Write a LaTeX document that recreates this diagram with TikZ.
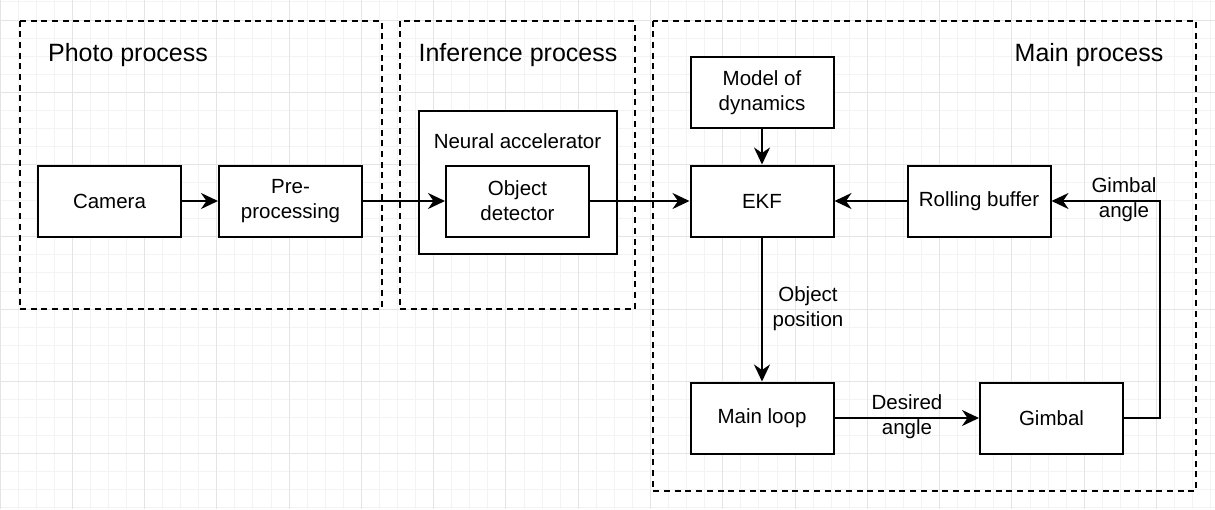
\documentclass[tikz,border=0pt]{standalone}
\usepackage{fontspec}
\setmainfont{Liberation Sans}
\usetikzlibrary{arrows.meta}
\newcommand\boxfont{\fontsize{20.5}{25}\selectfont}
\newcommand\titlefont{\fontsize{25}{30}\selectfont}
\definecolor{gridminor}{HTML}{F3F3F3}
\definecolor{gridmajor}{HTML}{E4E4E4}
\begin{document}
\begin{tikzpicture}[x=1pt,y=-1pt,
  box/.style={draw, line width=2pt, minimum width=143pt, minimum height=71pt,
    align=center, font=\boxfont, inner sep=0pt, fill=white},
  grp/.style={draw, line width=2pt, dash pattern=on 6pt off 4.7pt},
  arr/.style={line width=2pt, -{Stealth[length=17pt,width=16pt,inset=5.5pt]}},
  lbl/.style={align=center, font=\boxfont, inner sep=1pt},
  ttl/.style={font=\titlefont, inner sep=0pt}]
\useasboundingbox (0,0) rectangle (1215,509);
\fill[white] (0,0) rectangle (1215,509);
% grid
\begin{scope}[line width=1pt]
\foreach \i in {0,...,67} \draw[gridminor] (\i*18.07,0) -- (\i*18.07,509);
\foreach \k in {-1,...,27} \draw[gridminor] (0,20+\k*18.07) -- (1215,20+\k*18.07);
\foreach \i in {0,...,16} \draw[gridmajor] (\i*72.28,0) -- (\i*72.28,509);
\foreach \k in {0,...,6} \draw[gridmajor] (0,20+\k*72.28) -- (1215,20+\k*72.28);
\end{scope}
% groups
\draw[grp] (19.5,20.5) rectangle (381.5,309);
\draw[grp] (399.5,20.5) rectangle (635,309);
\draw[grp] (653,20.5) rectangle (1196,491);
\node[ttl] (tphoto) at (128,55) {Photo process};
\node[ttl] (tinf) at (518,55) {Inference process};
\node[ttl] (tmain) at (1089,55) {Main process};
% neural accelerator
\node[draw, line width=2pt, minimum width=198pt, minimum height=143pt, fill=white] (na) at (517.5,182.5) {};
\node[lbl] (nalbl) at (517.5,141) {Neural accelerator};
% boxes
\node[box] (cam) at (109.5,201) {Camera};
\node[box] (pre) at (290.5,201) {Pre-\\processing};
\node[box] (od) at (517.5,201) {Object\\detector};
\node[box] (mod) at (762,92.5) {Model of\\dynamics};
\node[box] (ekf) at (762,201) {EKF};
\node[box] (rb) at (979,201) {Rolling buffer};
\node[box] (ml) at (762,418) {Main loop};
\node[box] (gim) at (1051.5,418) {Gimbal};
% connectors
\draw[arr] (cam) -- (pre);
\draw[arr] (pre) -- (od);
\draw[arr] (od) -- (ekf);
\draw[arr] (mod) -- (ekf);
\draw[arr] (rb) -- (ekf);
\draw[arr] (ekf) -- (ml);
\draw[arr] (ml) -- (gim);
\coordinate (turn) at (1160,418);
\draw[arr] (gim.east) -- (turn) |- (rb.east);
% labels
\node[lbl] (lobj) at (808,309) {Object\\position};
\node[lbl] (ldes) at (907,417) {Desired\\angle};
\node[lbl] (lgim) at (1124,200) {Gimbal\\angle};
\end{tikzpicture}
\end{document}
